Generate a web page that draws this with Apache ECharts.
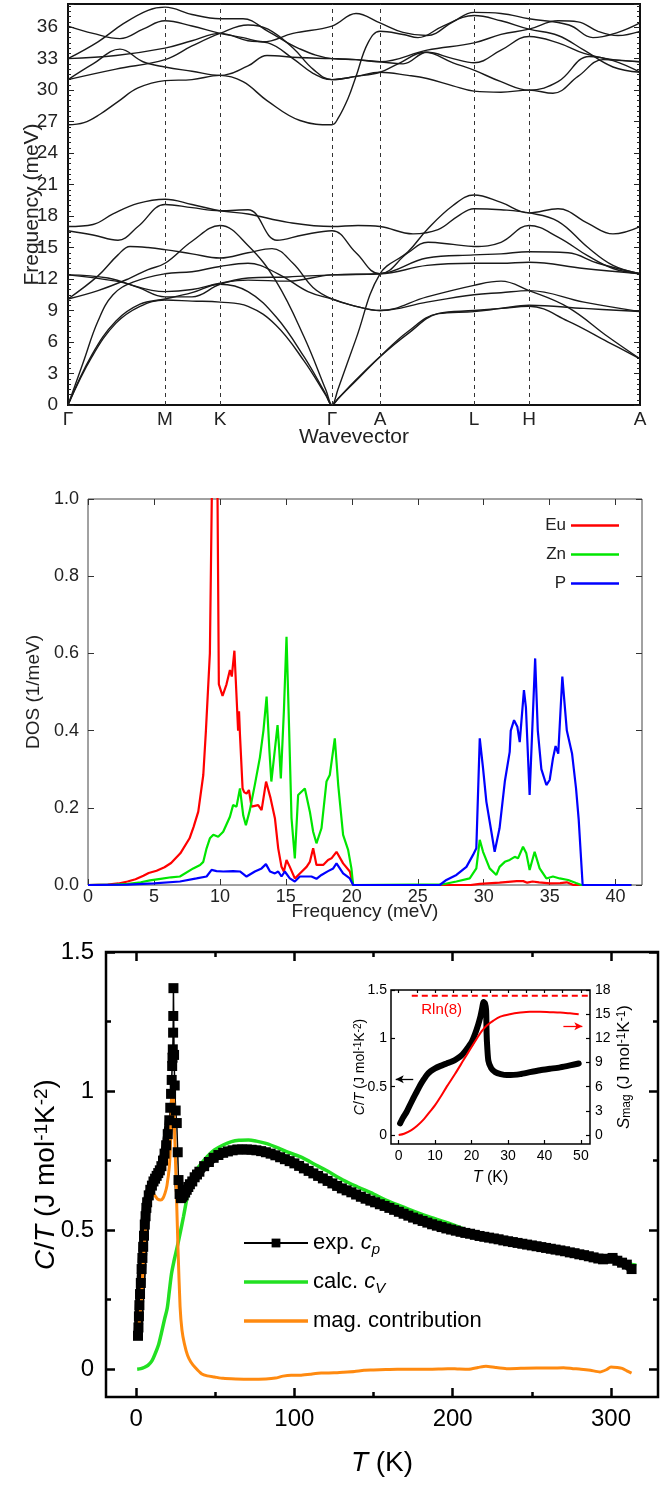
<!DOCTYPE html>
<html><head><meta charset="utf-8">
<script src="https://cdn.jsdelivr.net/npm/echarts@6/dist/echarts.min.js"></script>
<style>html,body{margin:0;padding:0;background:#fff}#c{width:672px;height:1486px}</style>
</head><body><div id="c"></div>
<script>
// ---------- Panel 1: phonon dispersion ----------
const kPos = [0, 97, 152, 264, 312, 406, 461, 572];
const kLabels = ['Γ', 'M', 'K', 'Γ', 'A', 'L', 'H', 'A'];
const band1 = [[0,0],[24,4.6],[48,7.8],[72,9.4],[97,10.0],[124,9.9],[152,9.8],[180,9.4],[208,7.6],[236,4.2],[258,0.9],[264,0],[270,0.6],[288,2.4],[312,4.6],[340,6.8],[370,8.7],[406,9.0],[433,9.2],[461,9.4],[500,8.0],[540,6.0],[572,4.4]];
const band2 = [[0,0],[24,4.8],[48,8.0],[72,9.6],[97,10.1],[124,10.7],[152,11.5],[180,10.8],[208,8.4],[236,4.6],[258,1.0],[264,0],[270,0.6],[288,2.3],[312,4.6],[340,7.0],[370,8.7],[406,8.9],[433,9.2],[461,9.5],[516,9.2],[572,8.9]];
const band3 = [[0,0],[15,4.0],[30,8.0],[45,10.5],[65,11.7],[97,12.5],[124,12.7],[152,13.2],[180,13.5],[210,12.5],[240,10.8],[264,10.1],[288,9.4],[312,9.0],[359,9.8],[406,10.5],[433,10.7],[461,10.9],[516,9.8],[572,8.9]];
const band4 = [[0,10.1],[30,12.3],[50,14.3],[62,15.1],[80,15.0],[97,14.8],[124,14.4],[152,14.0],[180,14.5],[204,14.9],[225,13.5],[245,11.2],[264,10.1],[288,9.4],[312,9.0],[359,10.3],[406,11.4],[433,11.8],[461,10.9],[500,9.3],[540,6.5],[572,4.4]];
const band5 = [[0,10.1],[30,10.9],[60,12.0],[80,12.9],[97,13.5],[124,15.6],[152,17.1],[180,15.2],[208,11.8],[236,6.5],[258,1.4],[264,0],[270,1.5],[288,6.3],[312,12.5],[340,14.6],[359,16.7],[385,19.0],[406,20.0],[433,19.3],[461,18.3],[490,18.7],[520,17.3],[545,16.3],[572,17.0]];
const band6 = [[0,12.4],[48,11.8],[97,10.8],[124,11.0],[152,11.6],[180,11.9],[220,11.8],[264,12.4],[312,12.5],[340,14.5],[360,15.5],[385,15.3],[406,15.1],[433,15.5],[461,17.1],[490,16.0],[520,14.2],[545,13.0],[572,12.5]];
const band7 = [[0,12.4],[40,12.1],[70,11.2],[97,10.3],[124,10.3],[152,11.5],[180,12.1],[220,12.2],[264,12.4],[312,12.5],[359,14.0],[406,14.3],[433,14.4],[461,14.6],[500,14.5],[530,13.5],[572,12.5]];
const band8 = [[0,16.6],[25,16.2],[50,15.7],[70,17.0],[97,19.1],[124,18.8],[152,18.5],[180,18.6],[209,15.7],[235,16.2],[264,16.6],[288,14.5],[312,12.5],[359,13.3],[406,13.5],[433,13.5],[461,13.6],[516,13.0],[572,12.5]];
const band9 = [[0,17.0],[25,17.2],[45,18.2],[70,19.2],[97,19.6],[124,19.1],[152,18.5],[180,18.2],[220,17.4],[264,17.0],[290,17.1],[312,17.0],[345,16.3],[370,16.7],[390,18.0],[406,18.7],[433,18.6],[461,18.3],[490,17.5],[520,15.0],[545,13.3],[572,12.5]];
const band10 = [[0,26.7],[16,26.9],[32,27.7],[50,28.9],[70,30.2],[97,30.9],[124,31.0],[152,31.4],[175,30.8],[199,29.0],[232,27.1],[264,26.7],[270,27.3],[280,29.2],[288,31.3],[300,34.5],[312,35.6],[335,35.3],[350,35.0],[375,36.1],[406,37.1],[433,36.6],[461,35.8],[490,35.2],[516,33.8],[545,32.2],[572,31.7]];
const band11 = [[0,31.0],[25,32.5],[52,33.9],[75,32.7],[97,32.2],[124,31.8],[152,31.4],[180,32.3],[199,33.3],[230,33.1],[264,33.0],[288,32.9],[312,32.7],[335,32.5],[359,33.6],[385,33.0],[406,32.6],[433,33.8],[461,35.1],[490,34.5],[516,33.5],[545,32.9],[572,32.7]];
const band12 = [[0,31.0],[48,32.0],[97,32.9],[124,34.2],[152,35.4],[180,36.2],[200,35.8],[225,34.0],[245,32.0],[264,31.0],[288,31.3],[312,31.7],[340,31.4],[359,31.1],[385,30.4],[406,29.9],[433,29.8],[461,30.0],[485,29.7],[510,31.3],[535,32.9],[572,32.7]];
const band13 = [[0,33.0],[48,33.3],[97,34.0],[124,34.7],[152,35.4],[180,34.7],[200,34.5],[225,33.0],[245,31.6],[264,31.0],[288,31.3],[312,31.7],[330,32.5],[357,33.6],[385,32.6],[406,31.9],[433,30.8],[461,30.0],[490,30.8],[521,33.2],[545,32.8],[572,31.7]];
const band14 = [[0,33.0],[30,34.6],[55,36.3],[80,37.6],[97,37.9],[124,37.2],[152,36.8],[175,36.8],[200,35.6],[230,34.0],[264,33.0],[288,32.9],[312,32.7],[359,33.8],[406,34.5],[433,35.3],[461,35.8],[490,36.6],[510,36.5],[530,35.6],[550,35.2],[572,35.6]];
const band15 = [[0,36.1],[25,35.4],[52,34.9],[75,35.8],[97,36.6],[124,36.1],[152,35.4],[175,35.0],[195,34.6],[225,35.4],[264,36.1],[288,37.3],[312,36.4],[335,35.5],[359,35.2],[385,36.5],[406,37.4],[433,37.3],[461,36.8],[501,36.2],[525,35.0],[550,35.5],[572,36.4]];
const bands = [band1,band2,band3,band4,band5,band6,band7,band8,band9,band10,band11,band12,band13,band14,band15];

// ---------- Panel 2: phonon DOS ----------
const dosNames = ['Eu', 'Zn', 'P'];
const dosEu = [[0,0],[1.5,0.001],[2.3,0.004],[3.0,0.009],[3.6,0.015],[4.2,0.024],[4.6,0.031],[5.2,0.037],[5.8,0.046],[6.3,0.057],[7.0,0.082],[7.7,0.121],[8.0,0.15],[8.36,0.19],[8.74,0.285],[8.94,0.40],[9.24,0.60],[9.42,1.1],[9.6,1.2],[9.8,1.1],[9.92,0.52],[10.2,0.49],[10.5,0.52],[10.76,0.557],[10.9,0.54],[11.1,0.607],[11.3,0.46],[11.38,0.40],[11.45,0.45],[11.52,0.39],[11.72,0.25],[11.85,0.24],[12.02,0.237],[12.2,0.246],[12.4,0.203],[12.9,0.207],[13.16,0.194],[13.5,0.268],[13.84,0.225],[14.17,0.173],[14.42,0.095],[14.67,0.047],[14.85,0.035],[15.05,0.065],[15.3,0.047],[15.68,0.017],[16.06,0.03],[16.57,0.047],[16.82,0.06],[17.07,0.095],[17.32,0.052],[17.83,0.052],[18.2,0.065],[18.46,0.069],[18.84,0.086],[19.34,0.056],[19.85,0.035],[20.1,0],[29.0,0],[29.7,0.003],[31.2,0.006],[32.5,0.01],[33.0,0.01],[33.3,0.006],[33.7,0.009],[34.2,0.007],[35.0,0.004],[35.8,0.005],[36.3,0.007],[36.8,0],[41.2,0]];
const dosZn = [[0,0],[2,0.001],[3.05,0.003],[4.0,0.007],[4.7,0.012],[5.5,0.016],[6.3,0.02],[6.97,0.022],[7.98,0.043],[8.5,0.052],[8.74,0.06],[8.99,0.095],[9.24,0.121],[9.5,0.13],[9.87,0.125],[10.25,0.138],[10.76,0.177],[11.0,0.207],[11.26,0.203],[11.52,0.25],[11.77,0.18],[11.97,0.155],[12.27,0.194],[12.65,0.26],[13.03,0.33],[13.3,0.40],[13.54,0.488],[13.75,0.35],[13.9,0.268],[14.1,0.33],[14.37,0.414],[14.5,0.35],[14.62,0.276],[14.85,0.45],[15.05,0.643],[15.25,0.40],[15.43,0.173],[15.68,0.069],[15.93,0.233],[16.44,0.25],[16.82,0.19],[17.07,0.138],[17.32,0.108],[17.7,0.147],[18.08,0.268],[18.33,0.285],[18.71,0.38],[18.97,0.259],[19.34,0.13],[19.72,0.091],[19.97,0.043],[20.1,0],[26.92,0.002],[27.93,0.009],[28.94,0.017],[29.44,0.043],[29.7,0.117],[29.95,0.086],[30.45,0.043],[30.96,0.026],[31.2,0.047],[31.6,0.06],[31.97,0.065],[32.35,0.073],[32.6,0.069],[32.98,0.099],[33.23,0.082],[33.48,0.039],[33.86,0.086],[34.24,0.043],[34.75,0.017],[35.25,0.022],[35.76,0.017],[36.4,0.013],[37.0,0.005],[37.4,0],[41.2,0]];
const dosP = [[0,0],[3,0.001],[5,0.004],[6.97,0.009],[8.23,0.017],[8.99,0.022],[9.37,0.039],[9.75,0.036],[10.25,0.035],[11.0,0.036],[11.52,0.035],[12.02,0.022],[12.65,0.035],[13.16,0.043],[13.49,0.054],[13.8,0.035],[14.17,0.03],[14.42,0.035],[14.67,0.022],[14.92,0.035],[15.3,0.017],[15.68,0.009],[16.06,0.022],[16.94,0.022],[17.32,0.016],[17.7,0.026],[18.2,0.036],[18.59,0.043],[18.84,0.056],[19.34,0.03],[19.85,0.017],[20.1,0],[26.67,0],[27.17,0.013],[27.93,0.026],[28.69,0.047],[29.19,0.078],[29.44,0.095],[29.7,0.38],[29.95,0.302],[30.2,0.216],[30.58,0.138],[30.83,0.086],[31.2,0.147],[31.6,0.268],[31.97,0.345],[32.05,0.40],[32.3,0.427],[32.55,0.41],[32.73,0.37],[33.05,0.505],[33.2,0.46],[33.48,0.233],[33.9,0.587],[34.1,0.40],[34.37,0.30],[34.75,0.259],[35.0,0.272],[35.25,0.328],[35.45,0.36],[35.65,0.34],[35.96,0.54],[36.3,0.40],[36.7,0.34],[37.0,0.25],[37.2,0.17],[37.5,0],[41.2,0]];
const dosXLabels = [0,5,10,15,20,25,30,35,40];

// ---------- Panel 3: heat capacity ----------
const expCp = [[1.2,0.12],[1.5,0.15],[1.8,0.19],[2.1,0.23],[2.5,0.27],[3.0,0.31],[3.5,0.36],[4.0,0.40],[4.5,0.44],[5.0,0.48],[5.5,0.52],[6.0,0.55],[6.5,0.58],[7.0,0.60],[8,0.625],[9,0.645],[10,0.66],[11,0.675],[12,0.685],[13,0.695],[14,0.705],[15,0.715],[16,0.73],[17,0.75],[18,0.775],[19,0.805],[20,0.845],[21,0.895],[21.6,0.94],[22.1,0.99],[22.5,1.04],[22.8,1.09],[23.0,1.12],[23.2,1.15],[23.4,1.21],[23.5,1.27],[23.6,1.37],[24.0,1.13],[24.4,1.02],[25.0,0.93],[25.7,0.885],[26.3,0.78],[26.8,0.68],[27.5,0.63],[28.3,0.615],[29,0.62],[30,0.625],[31,0.635],[32,0.645],[33,0.655],[34,0.665],[35.5,0.675],[37,0.69],[38.5,0.70],[40,0.71],[43,0.73],[46,0.745],[49,0.76],[52,0.77],[55,0.778],[58,0.783],[61,0.787],[64,0.79],[67,0.79],[70,0.79],[73,0.789],[76,0.787],[79,0.784],[82,0.78],[85,0.775],[88,0.769],[91,0.762],[94,0.755],[97,0.748],[100,0.74],[103,0.731],[106,0.722],[109,0.713],[112,0.704],[115,0.695],[118,0.686],[121,0.677],[124,0.668],[127,0.659],[130,0.65],[133,0.643],[136,0.636],[139,0.628],[142,0.62],[145,0.613],[148,0.606],[151,0.6],[154,0.593],[157,0.587],[160,0.58],[163,0.573],[166,0.566],[169,0.559],[172,0.552],[175,0.545],[178,0.539],[181,0.533],[184,0.527],[187,0.521],[190,0.516],[193,0.511],[196,0.506],[199,0.502],[202,0.498],[205,0.494],[208,0.49],[211,0.487],[214,0.483],[217,0.479],[220,0.476],[223,0.473],[226,0.47],[229,0.467],[232,0.463],[235,0.46],[238,0.457],[241,0.454],[244,0.451],[247,0.448],[250,0.445],[253,0.442],[256,0.439],[259,0.436],[262,0.433],[265,0.43],[268,0.427],[271,0.424],[274,0.42],[277,0.417],[280,0.413],[283,0.41],[286,0.406],[289,0.402],[292,0.398],[295,0.395],[298,0.397],[301,0.4],[304,0.39],[307,0.383],[310,0.376],[313,0.36]];
const calcCv = [[0.7,0],[3,0.002],[5,0.006],[7.5,0.014],[10,0.03],[12,0.055],[14.3,0.09],[16,0.13],[18,0.18],[19.7,0.22],[21,0.28],[22.4,0.344],[24,0.39],[26,0.44],[27.8,0.488],[30,0.55],[33.2,0.644],[36,0.69],[38.5,0.72],[41.3,0.74],[45,0.765],[49.5,0.788],[55,0.806],[60.3,0.818],[65,0.823],[71,0.824],[76,0.82],[82,0.812],[90,0.795],[95,0.782],[103.6,0.764],[115,0.73],[120,0.715],[130.7,0.68],[140,0.655],[150,0.63],[157.8,0.608],[170,0.58],[184.8,0.548],[200,0.52],[212,0.494],[225,0.478],[239,0.464],[253,0.446],[266,0.428],[280,0.412],[293,0.398],[305,0.385],[316,0.374]];
const magC = [[1.3,0.116],[2.2,0.18],[3.4,0.248],[4.5,0.38],[6.1,0.512],[7.5,0.58],[8.8,0.62],[10,0.63],[11.6,0.626],[13.5,0.612],[15.6,0.608],[17,0.615],[18.3,0.633],[19.5,0.66],[21,0.728],[21.8,0.82],[22.4,0.97],[23.2,1.03],[23.8,0.95],[25,0.728],[26.5,0.43],[27.8,0.224],[29,0.14],[30.5,0.092],[32.5,0.05],[34.6,0.026],[37.5,0.005],[41.3,-0.016],[45,-0.024],[49.5,-0.028],[55,-0.033],[63,-0.035],[72,-0.036],[82,-0.035],[88,-0.032],[92.8,-0.025],[98,-0.022],[103.6,-0.022],[110,-0.018],[117,-0.014],[125,-0.013],[130.7,-0.011],[138,-0.008],[144,-0.004],[150,-0.003],[157.8,-0.001],[165,0],[171,0],[185,0],[197,0.002],[203,0.001],[210,0],[216,0.006],[221,0.011],[227,0.006],[234,0.002],[243,0.003],[253,0.004],[262,0.004],[270,0.005],[276,0.002],[281,0],[287,-0.004],[293,-0.01],[297,-0.002],[300,0.008],[304,0.006],[307,0.003],[310,-0.006],[313,-0.014]];
const cpXLabels = [0,100,200,300];
const cpXMinor = [50,150,250];
const cpYLabels = [0,0.5,1,1.5];
const cpYMinor = [0.25,0.75,1.25];

// inset
const insetCT = [[0.4,0.12],[1.2,0.18],[2.2,0.24],[3.1,0.31],[4.0,0.378],[5.0,0.45],[5.9,0.515],[6.8,0.57],[7.7,0.62],[8.8,0.66],[10,0.69],[11.5,0.715],[13.2,0.74],[14.6,0.76],[16,0.79],[17.4,0.83],[18.7,0.89],[20,0.96],[21,1.05],[21.8,1.14],[22.4,1.22],[22.9,1.31],[23.3,1.375],[23.7,1.36],[24,1.29],[24.1,1.1],[24.2,0.98],[24.6,0.77],[25.4,0.69],[26.5,0.65],[28,0.63],[29.7,0.62],[31.5,0.622],[33.4,0.63],[36,0.65],[38.8,0.67],[41.5,0.685],[44.3,0.70],[47,0.72],[49.4,0.74]];
const insetS = [[0,0],[1.5,0.15],[3.5,0.6],[5,1.1],[7,2.0],[8.6,2.9],[10,3.7],[11.6,4.8],[13.2,6.0],[15.5,7.6],[17.8,9.3],[19.7,10.7],[21.5,12.0],[22.8,12.9],[24.2,13.6],[26,14.2],[27.9,14.7],[30.5,15.0],[33.4,15.2],[36,15.3],[38.8,15.3],[41.5,15.25],[44.3,15.2],[47,15.1],[49.4,15.0]];
const rln8 = 17.29;
const rln8Line = [[3.6, rln8],[52.5, rln8]];
const insetXLabels = [0,10,20,30,40,50];
const insetXMinor = [5,15,25,35,45];
const insetYLabels = [0,0.5,1,1.5];
const insetSLabels = [0,3,6,9,12,15,18];

// ---------- styling ----------
const FONT = 'Liberation Sans, Arial, Helvetica, sans-serif';
const OFF = {show:false};
const noLine = {show:false, onZero:false};
function tickAxis(base, extra) { return Object.assign({type:'value', splitLine:OFF, axisLine:noLine}, base, extra); }

const chart = echarts.init(document.getElementById('c'), null, {renderer:'canvas'});

const bandTick = {show:true, inside:true, length:6, lineStyle:{color:'#222', width:1}};
const bandMinor = {show:true, splitNumber:6, length:3, lineStyle:{color:'#222', width:1}};
const dosTick = {show:true, inside:true, length:6, lineStyle:{color:'#333', width:1}};
const cpTick = (vals, len) => ({show:true, inside:true, length:len, customValues:vals, lineStyle:{color:'#000', width:2.5}});
const inTick = (vals, len) => ({show:true, inside:true, length:len, customValues:vals, lineStyle:{color:'#000', width:1.2}});

const richCT = (fs, sfs) => ({
  i:{fontStyle:'italic', fontSize:fs, fontFamily:FONT, color:'#000'},
  n:{fontSize:fs, fontFamily:FONT, color:'#000'},
  sup:{fontSize:sfs, fontFamily:FONT, color:'#000', verticalAlign:'top', lineHeight:Math.round(sfs*0.9)},
  sub:{fontSize:sfs, fontFamily:FONT, color:'#000', verticalAlign:'bottom', lineHeight:Math.round(sfs*0.9)}
});

const xAxis = [
  tickAxis({gridIndex:0, min:0, max:572, position:'bottom'}, {
    axisTick:OFF,
    axisLabel:{customValues:kPos, formatter:(v)=>kLabels[kPos.indexOf(v)], fontSize:19, color:'#222', fontFamily:FONT, margin:5},
    name:'Wavevector', nameLocation:'middle', nameGap:22, nameMoveOverlap:false,
    nameTextStyle:{fontSize:21, color:'#222', fontFamily:FONT}
  }),
  tickAxis({gridIndex:1, min:0, max:42, position:'bottom'}, {
    axisTick:Object.assign({customValues:dosXLabels}, dosTick),
    axisLabel:{customValues:dosXLabels, fontSize:18, color:'#222', fontFamily:FONT, margin:3},
    name:'Frequency (meV)', nameLocation:'middle', nameGap:17, nameMoveOverlap:false,
    nameTextStyle:{fontSize:19, color:'#222', fontFamily:FONT}
  }),
  tickAxis({gridIndex:1, min:0, max:42, position:'top'}, {axisTick:Object.assign({customValues:dosXLabels}, dosTick), axisLabel:OFF}),
  tickAxis({gridIndex:2, min:-19, max:329.7, position:'bottom'}, {
    axisTick:cpTick(cpXLabels, 9),
    axisLabel:{customValues:cpXLabels, fontSize:24, color:'#000', fontFamily:FONT, margin:10},
    name:'{i|T} {n|(K)}', nameLocation:'middle', nameGap:52, nameMoveOverlap:false,
    nameTextStyle:{fontSize:28, color:'#000', fontFamily:FONT, rich:richCT(28,18)}
  }),
  tickAxis({gridIndex:2, min:-19, max:329.7, position:'bottom'}, {axisTick:cpTick(cpXMinor, 5), axisLabel:OFF}),
  tickAxis({gridIndex:2, min:-19, max:329.7, position:'top'}, {axisTick:cpTick(cpXLabels, 9), axisLabel:OFF}),
  tickAxis({gridIndex:2, min:-19, max:329.7, position:'top'}, {axisTick:cpTick(cpXMinor, 5), axisLabel:OFF}),
  tickAxis({gridIndex:3, min:-2.1, max:52.5, position:'bottom'}, {
    axisTick:inTick(insetXLabels, 4),
    axisLabel:{customValues:insetXLabels, fontSize:14, color:'#000', fontFamily:FONT, margin:5},
    name:'{i|T} {n|(K)}', nameLocation:'middle', nameGap:26, nameMoveOverlap:false,
    nameTextStyle:{fontSize:16, color:'#000', fontFamily:FONT, rich:richCT(16,11)}
  }),
  tickAxis({gridIndex:3, min:-2.1, max:52.5, position:'top'}, {axisTick:inTick(insetXLabels.concat(insetXMinor), 3), axisLabel:OFF})
];

const yAxis = [
  tickAxis({gridIndex:0, min:0, max:38.2, interval:3, position:'left'}, {
    axisTick:bandTick, minorTick:bandMinor,
    axisLabel:{showMaxLabel:false, fontSize:19, color:'#222', fontFamily:FONT, margin:10},
    name:'Frequency (meV)', nameLocation:'middle', nameGap:25, nameMoveOverlap:false,
    nameTextStyle:{fontSize:21, color:'#222', fontFamily:FONT}
  }),
  tickAxis({gridIndex:0, min:0, max:38.2, interval:3, position:'right'}, {axisTick:bandTick, minorTick:bandMinor, axisLabel:OFF}),
  tickAxis({gridIndex:1, min:0, max:1, interval:0.2, position:'left'}, {
    axisTick:dosTick,
    axisLabel:{formatter:(v)=>v.toFixed(1), fontSize:18, color:'#222', fontFamily:FONT, margin:9},
    name:'DOS (1/meV)', nameLocation:'middle', nameGap:45, nameMoveOverlap:false,
    nameTextStyle:{fontSize:19, color:'#222', fontFamily:FONT}
  }),
  tickAxis({gridIndex:1, min:0, max:1, interval:0.2, position:'right'}, {axisTick:dosTick, axisLabel:OFF}),
  tickAxis({gridIndex:2, min:-0.1, max:1.5, position:'left'}, {
    axisTick:cpTick(cpYLabels, 9),
    axisLabel:{customValues:cpYLabels, fontSize:24, color:'#000', fontFamily:FONT, margin:12},
    name:'{i|C}/{i|T} {n|(J mol}{sup|-1}{n|K}{sup|-2}{n|)}', nameLocation:'middle', nameGap:46, nameMoveOverlap:false,
    nameTextStyle:{fontSize:28, color:'#000', fontFamily:FONT, rich:richCT(28,19)}
  }),
  tickAxis({gridIndex:2, min:-0.1, max:1.5, position:'left'}, {axisTick:cpTick(cpYMinor, 5), axisLabel:OFF}),
  tickAxis({gridIndex:2, min:-0.1, max:1.5, position:'right'}, {axisTick:cpTick(cpYLabels, 9), axisLabel:OFF}),
  tickAxis({gridIndex:2, min:-0.1, max:1.5, position:'right'}, {axisTick:cpTick(cpYMinor, 5), axisLabel:OFF}),
  tickAxis({gridIndex:3, min:-0.093, max:1.5, position:'left'}, {
    axisTick:inTick(insetYLabels, 4),
    axisLabel:{customValues:insetYLabels, fontSize:14, color:'#000', fontFamily:FONT, margin:4},
    name:'{i|C}/{i|T} {n|(J mol}{sup|-1}{n|K}{sup|-2}{n|)}', nameLocation:'middle', nameGap:24, nameMoveOverlap:false,
    nameTextStyle:{fontSize:14, color:'#000', fontFamily:FONT, rich:richCT(14,10)}
  }),
  tickAxis({gridIndex:3, min:-1.12, max:18, position:'right'}, {
    axisTick:inTick(insetSLabels, 4),
    axisLabel:{customValues:insetSLabels, fontSize:14, color:'#000', fontFamily:FONT, margin:5},
    name:'{i|S}{sub|mag} {n|(J mol}{sup|-1}{n|K}{sup|-1}{n|)}', nameLocation:'middle', nameGap:26, nameMoveOverlap:false,
    nameTextStyle:{fontSize:17, color:'#000', fontFamily:FONT, rich:richCT(17,12)}
  })
];

const series = [];
bands.forEach((b, i) => {
  const s = {type:'line', xAxisIndex:0, yAxisIndex:0, data:b, smooth:0.4, symbol:'none', silent:true,
    lineStyle:{color:'#1a1a1a', width:1.4}};
  if (i === 0) {
    s.markLine = {silent:true, symbol:'none', label:OFF, animation:false,
      lineStyle:{type:[4,4], color:'#333', width:1},
      data:kPos.slice(1, -1).map(v => ({xAxis:v}))};
  }
  series.push(s);
});
const dosColors = ['#ff0000', '#00e600', '#0000ff'];
[dosEu, dosZn, dosP].forEach((d, i) => {
  series.push({type:'line', name:dosNames[i], xAxisIndex:1, yAxisIndex:2, data:d, symbol:'none',
    lineStyle:{color:dosColors[i], width:2.2}, itemStyle:{color:dosColors[i]}, clip:true});
});
series.push({type:'line', xAxisIndex:3, yAxisIndex:4, silent:true, symbol:'none', connectNulls:false,
  data:expCp.map(p => (p[0] > 21.2 && p[0] < 26.5) ? [p[0], null] : p),
  lineStyle:{color:'#000', width:9, join:'round'}});
series.push({type:'line', name:'exp', xAxisIndex:3, yAxisIndex:4, data:expCp, symbol:'rect', symbolSize:10,
  lineStyle:{color:'#000', width:1.5}, itemStyle:{color:'#000'}, clip:true});
series.push({type:'line', name:'calc', xAxisIndex:3, yAxisIndex:4, data:calcCv, symbol:'none', smooth:0.3,
  lineStyle:{color:'#22e022', width:3.5}, itemStyle:{color:'#22e022'}});
series.push({type:'line', name:'mag', xAxisIndex:3, yAxisIndex:4, data:magC, symbol:'none', smooth:0.2,
  lineStyle:{color:'#ff8a10', width:3}, itemStyle:{color:'#ff8a10'}});
series.push({type:'line', xAxisIndex:7, yAxisIndex:8, data:insetCT, symbol:'none', smooth:0.2, silent:true,
  lineStyle:{color:'#000', width:6, cap:'round', join:'round'},
  markLine:{silent:true, symbol:['none','arrow'], symbolSize:[6,8], label:OFF, animation:false,
    lineStyle:{color:'#000', width:1.3, type:'solid'},
    data:[[{coord:[4.0,0.577]},{coord:[-0.8,0.577]}]]}});
series.push({type:'line', xAxisIndex:7, yAxisIndex:9, data:insetS, symbol:'none', smooth:0.3, silent:true,
  lineStyle:{color:'#ff0000', width:2},
  markLine:{silent:true, symbol:['none','arrow'], symbolSize:[6,8], label:OFF, animation:false,
    lineStyle:{color:'#ff0000', width:1.3, type:'solid'},
    data:[[{coord:[45.2,13.5]},{coord:[50.4,13.5]}]]}});
series.push({type:'line', xAxisIndex:7, yAxisIndex:9, data:rln8Line, symbol:'none', silent:true,
  lineStyle:{color:'#ff0000', width:2, type:[6,4]},
  markPoint:{silent:true, symbol:'rect', symbolSize:1, itemStyle:{color:'rgba(0,0,0,0)'},
    label:{show:true, position:'inside', formatter:'Rln(8)', color:'#ff0000', fontSize:15, fontFamily:FONT},
    data:[{coord:[11.8,15.5]}]}});

const legendText = {exp:'{t|exp. }{i|c}{sub|p}', calc:'{t|calc. }{i|c}{sub|V}', mag:'{t|mag. contribution}'};
const dosIcon = 'path://M0,0L48,0L48,2.4L0,2.4Z';
const cpIcon = 'path://M0,0L64,0L64,3.5L0,3.5Z';

chart.setOption({
  animation:false,
  backgroundColor:'#fff',
  textStyle:{fontFamily:FONT},
  grid:[
    {left:68, top:4, width:572, height:401, show:true, borderColor:'#111', borderWidth:2, containLabel:false, outerBoundsMode:'none'},
    {left:88, top:499, width:554, height:386, show:true, borderColor:'#444', borderWidth:1, containLabel:false, outerBoundsMode:'none'},
    {left:106, top:952, width:552, height:445, show:true, borderColor:'#000', borderWidth:2.5, containLabel:false, outerBoundsMode:'none'},
    {left:391, top:990, width:199, height:154, show:true, borderColor:'#000', borderWidth:1.5, backgroundColor:'#fff', containLabel:false, outerBoundsMode:'none'}
  ],
  legend:[
    {data:dosNames.map(n => ({name:n, icon:dosIcon})), orient:'vertical', right:48, top:512, align:'right',
      itemWidth:48, itemHeight:10, itemGap:12, symbolKeepAspect:true,
      textStyle:{fontSize:17, color:'#222', fontFamily:FONT}, selectedMode:false},
    {data:[{name:'exp'}, {name:'calc', icon:cpIcon}, {name:'mag', icon:cpIcon}], orient:'vertical', left:238, top:1224, align:'left',
      itemWidth:64, itemHeight:11, itemGap:11, symbolKeepAspect:true,
      selectedMode:false, formatter:(n)=>legendText[n],
      textStyle:{fontSize:22, color:'#000', fontFamily:FONT, lineHeight:28,
        rich:{t:{fontSize:22, fontFamily:FONT, color:'#000'}, i:{fontSize:22, fontStyle:'italic', fontFamily:FONT, color:'#000'},
          sub:{fontSize:15, fontStyle:'italic', fontFamily:FONT, color:'#000', verticalAlign:'bottom', lineHeight:14}}}}
  ],
  xAxis:xAxis,
  yAxis:yAxis,
  series:series
});
</script></body></html>
